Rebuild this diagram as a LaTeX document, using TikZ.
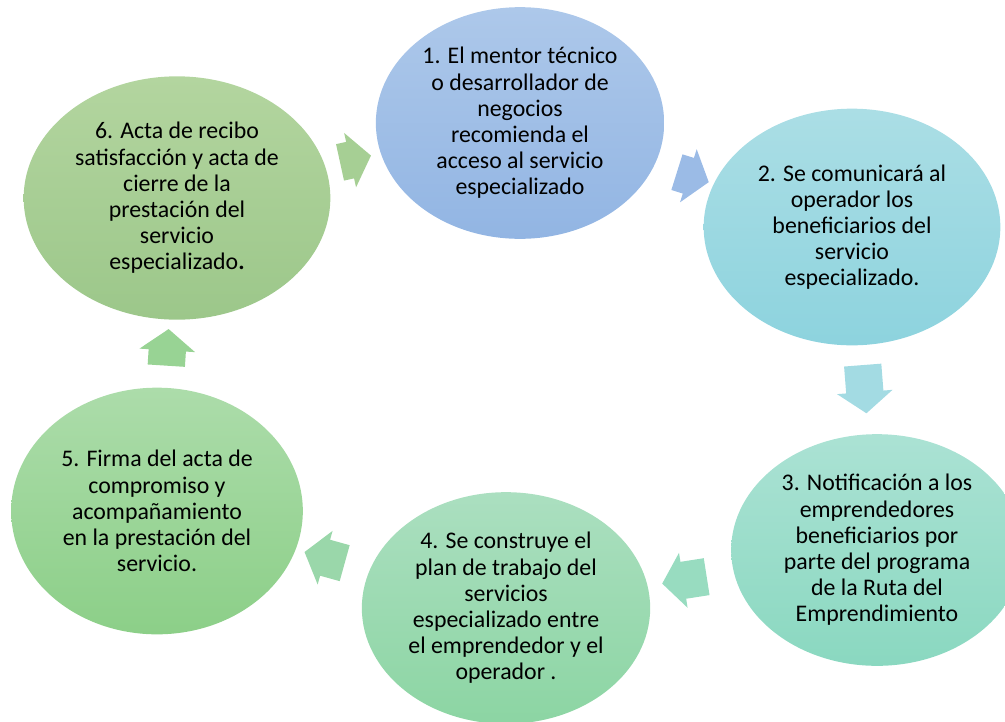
\documentclass[tikz,border=0pt]{standalone}
\usepackage{fontspec}
\setmainfont{Carlito}
\usetikzlibrary{shapes.geometric,shapes.arrows}

\begin{document}
\begin{tikzpicture}[
  x=0.6pt, y=-0.6pt,
  paso/.style={ellipse, align=center, inner sep=0pt, font=\fontsize{14.3}{15.7}\selectfont}, % steps are ellipses
  azul/.style={paso, top color={rgb,255:red,173;green,200;blue,234}, bottom color={rgb,255:red,146;green,181;blue,227}},
  turquesa/.style={paso, top color={rgb,255:red,171;green,222;blue,229}, bottom color={rgb,255:red,141;green,211;blue,222}},
  aqua/.style={paso, top color={rgb,255:red,171;green,226;blue,212}, bottom color={rgb,255:red,138;green,216;blue,192}},
  menta/.style={paso, top color={rgb,255:red,171;green,223;blue,192}, bottom color={rgb,255:red,140;green,213;blue,163}},
  verde/.style={paso, top color={rgb,255:red,172;green,220;blue,170}, bottom color={rgb,255:red,140;green,207;blue,136}},
  oliva/.style={paso, top color={rgb,255:red,179;green,213;blue,159}, bottom color={rgb,255:red,156;green,199;blue,138}},
  flecha/.style={single arrow, sloped, allow upside down, inner xsep=0pt, inner ysep=11pt,
    minimum height=27pt, single arrow head extend=5.5pt, single arrow tip angle=105}
]
  \useasboundingbox (0,0) rectangle (1005,721);

  \node [azul, minimum width=173pt, minimum height=139pt] (p1) at (520,123)
    {1. El mentor técnico\\o desarrollador de\\negocios\\recomienda el\\acceso al servicio\\especializado};
  \node [turquesa, minimum width=178pt, minimum height=142pt] (p2) at (852,227)
    {2. Se comunicará al\\operador los\\beneficiarios del\\servicio\\especializado.};
  \node [aqua, minimum width=175pt, minimum height=139pt] (p3) at (877,550)
    {3. Notificación a los\\emprendedores\\beneficiarios por\\parte del programa\\de la Ruta del\\Emprendimiento};
  \node [menta, minimum width=173pt, minimum height=139pt] (p4) at (506,608)
    {4. Se construye el\\plan de trabajo del\\servicios\\especializado entre\\el emprendedor y el\\operador .};
  \node [verde, minimum width=175pt, minimum height=148pt] (p5) at (157,511)
    {5. Firma del acta de\\compromiso y\\acompañamiento\\en la prestación del\\servicio.};
  \node [oliva, minimum width=184pt, minimum height=146pt] (p6) at (177,198)
    {6. Acta de recibo\\satisfacción y acta de\\cierre de la\\prestación del\\servicio\\especializado\textbf{.}};

  % arrows between the steps
  \path (p1.center) -- node [flecha, minimum height=20pt, fill={rgb,255:red,155;green,187;blue,230}] (f12) {} (p2.center);
  \path (p2.center) -- node [flecha, pos=0.48, minimum height=29pt, fill={rgb,255:red,163;green,219;blue,227}] (f23) {} (p3.center);
  \path (p3.center) -- node [flecha, minimum height=27pt, fill={rgb,255:red,152;green,220;blue,192}] (f34) {} (p4.center);
  \path (p4.center) -- node [flecha, minimum height=25pt, fill={rgb,255:red,154;green,215;blue,170}] (f45) {} (p5.center);
  \path (p5.center) -- node [flecha, minimum height=22pt, fill={rgb,255:red,152;green,211;blue,148}] (f56) {} (p6.center);
  \path (p6.center) -- node [flecha, minimum height=19pt, fill={rgb,255:red,166;green,207;blue,148}] (f61) {} (p1.center);

\end{tikzpicture}
\end{document}
